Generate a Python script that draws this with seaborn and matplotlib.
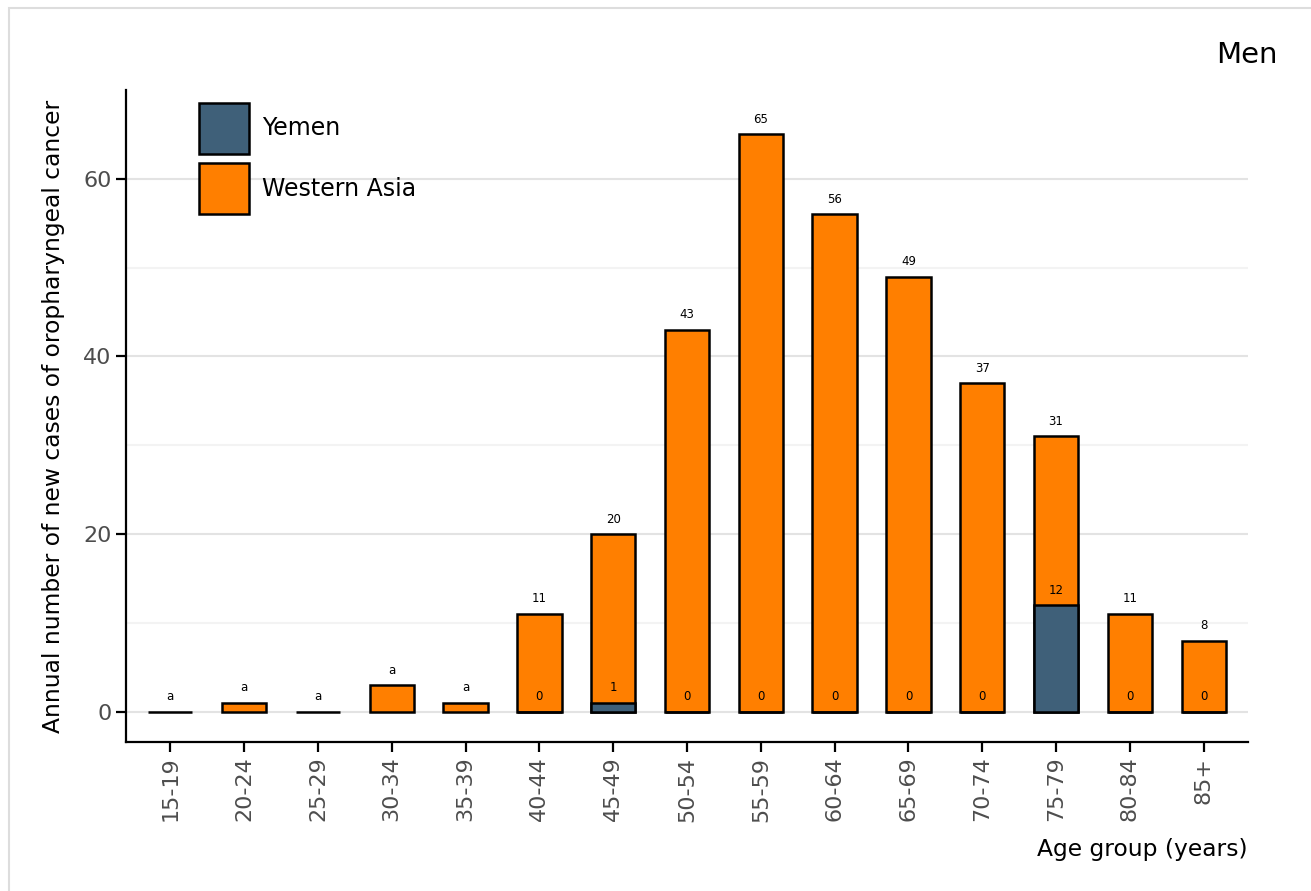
import numpy as np
import pandas as pd
import matplotlib
matplotlib.use('Agg')
import matplotlib.pyplot as plt
from matplotlib.patches import Rectangle, Patch
from matplotlib.ticker import FixedLocator
import seaborn as sns

AGE_GROUPS = ['15-19', '20-24', '25-29', '30-34', '35-39', '40-44', '45-49', '50-54',
              '55-59', '60-64', '65-69', '70-74', '75-79', '80-84', '85+']
WESTERN_ASIA = [0, 1, 0, 3, 1, 11, 20, 43, 65, 56, 49, 37, 31, 11, 8]
YEMEN = [np.nan, np.nan, np.nan, np.nan, np.nan, 0, 1, 0, 0, 0, 0, 0, 12, 0, 0]
SUPPRESSED = [True, True, True, True, True] + [False] * 10

ORANGE = '#ff7f00'
BLUE = '#3f6079'

sns.set_theme(style='white')
plt.rcParams['font.family'] = ['DejaVu Sans']

df = pd.DataFrame({'age': AGE_GROUPS, 'wa': WESTERN_ASIA, 'ye': YEMEN})

fig = plt.figure(figsize=(13.11, 8.91), dpi=100)
ax = fig.add_axes([126 / 1311, 1 - 742 / 891, (1248 - 126) / 1311, (742 - 90) / 891])

sns.barplot(data=df, x='age', y='wa', order=AGE_GROUPS, color=ORANGE, saturation=1,
            width=0.6, edgecolor='black', linewidth=1.8, ax=ax)
ye_df = df.dropna(subset=['ye'])
sns.barplot(data=ye_df, x='age', y='ye', order=AGE_GROUPS, color=BLUE, saturation=1,
            width=0.6, edgecolor='black', linewidth=1.8, ax=ax)

# value labels: 'a' = suppressed small counts
off = 1.7
for i, (wa, ye, sup) in enumerate(zip(WESTERN_ASIA, YEMEN, SUPPRESSED)):
    ax.text(i, wa + off, 'a' if sup else str(wa), ha='center', va='center', fontsize=8.5, color='black')
    if not np.isnan(ye):
        ax.text(i, ye + off, str(int(ye)), ha='center', va='center', fontsize=8.5, color='black')

ax.set_xlim(-0.6, 14.6)
ax.set_ylim(-3.4, 70)
ax.yaxis.set_major_locator(FixedLocator([0, 20, 40, 60]))
ax.yaxis.set_minor_locator(FixedLocator([10, 30, 50]))
ax.grid(axis='y', which='major', color='#e3e3e3', linewidth=1.5)
ax.grid(axis='y', which='minor', color='#f3f3f3', linewidth=1.5)
ax.grid(axis='x', visible=False)
ax.set_axisbelow(True)

for s in ['top', 'right']:
    ax.spines[s].set_visible(False)
for s in ['left', 'bottom']:
    ax.spines[s].set_color('black')
    ax.spines[s].set_linewidth(1.6)

ax.tick_params(axis='both', which='major', direction='out', length=7, width=1.6, color='black',
               labelsize=16, labelcolor='#4d4d4d', bottom=True, left=True)
ax.tick_params(axis='y', which='minor', length=0)
plt.setp(ax.get_xticklabels(), rotation=90)

ax.set_xlabel('Age group (years)', fontsize=16.8, color='black', loc='right', labelpad=12)
ax.set_ylabel('Annual number of new cases of oropharyngeal cancer', fontsize=16.8, color='black',
              labelpad=13)

handles = [Patch(facecolor=BLUE, edgecolor='black', linewidth=1.8, label='Yemen'),
           Patch(facecolor=ORANGE, edgecolor='black', linewidth=1.8, label='Western Asia')]
ax.legend(handles=handles, loc='upper left', bbox_to_anchor=(0.0567, 0.9945), borderaxespad=0,
          frameon=False, fontsize=17, labelcolor='black', handlelength=2.12, handleheight=2.95,
          labelspacing=0.38, handletextpad=0.55)

fig.text(1278 / 1311, 1 - 55 / 891, 'Men', ha='right', va='center', fontsize=21, color='black')

fig.patches.append(Rectangle((9 / 1311, -0.1), 1.2, 1 - 8 / 891 + 0.1, transform=fig.transFigure,
                             fill=False, edgecolor='#dddddd', linewidth=1.5, zorder=0))

fig.savefig('out.png', dpi=100)
